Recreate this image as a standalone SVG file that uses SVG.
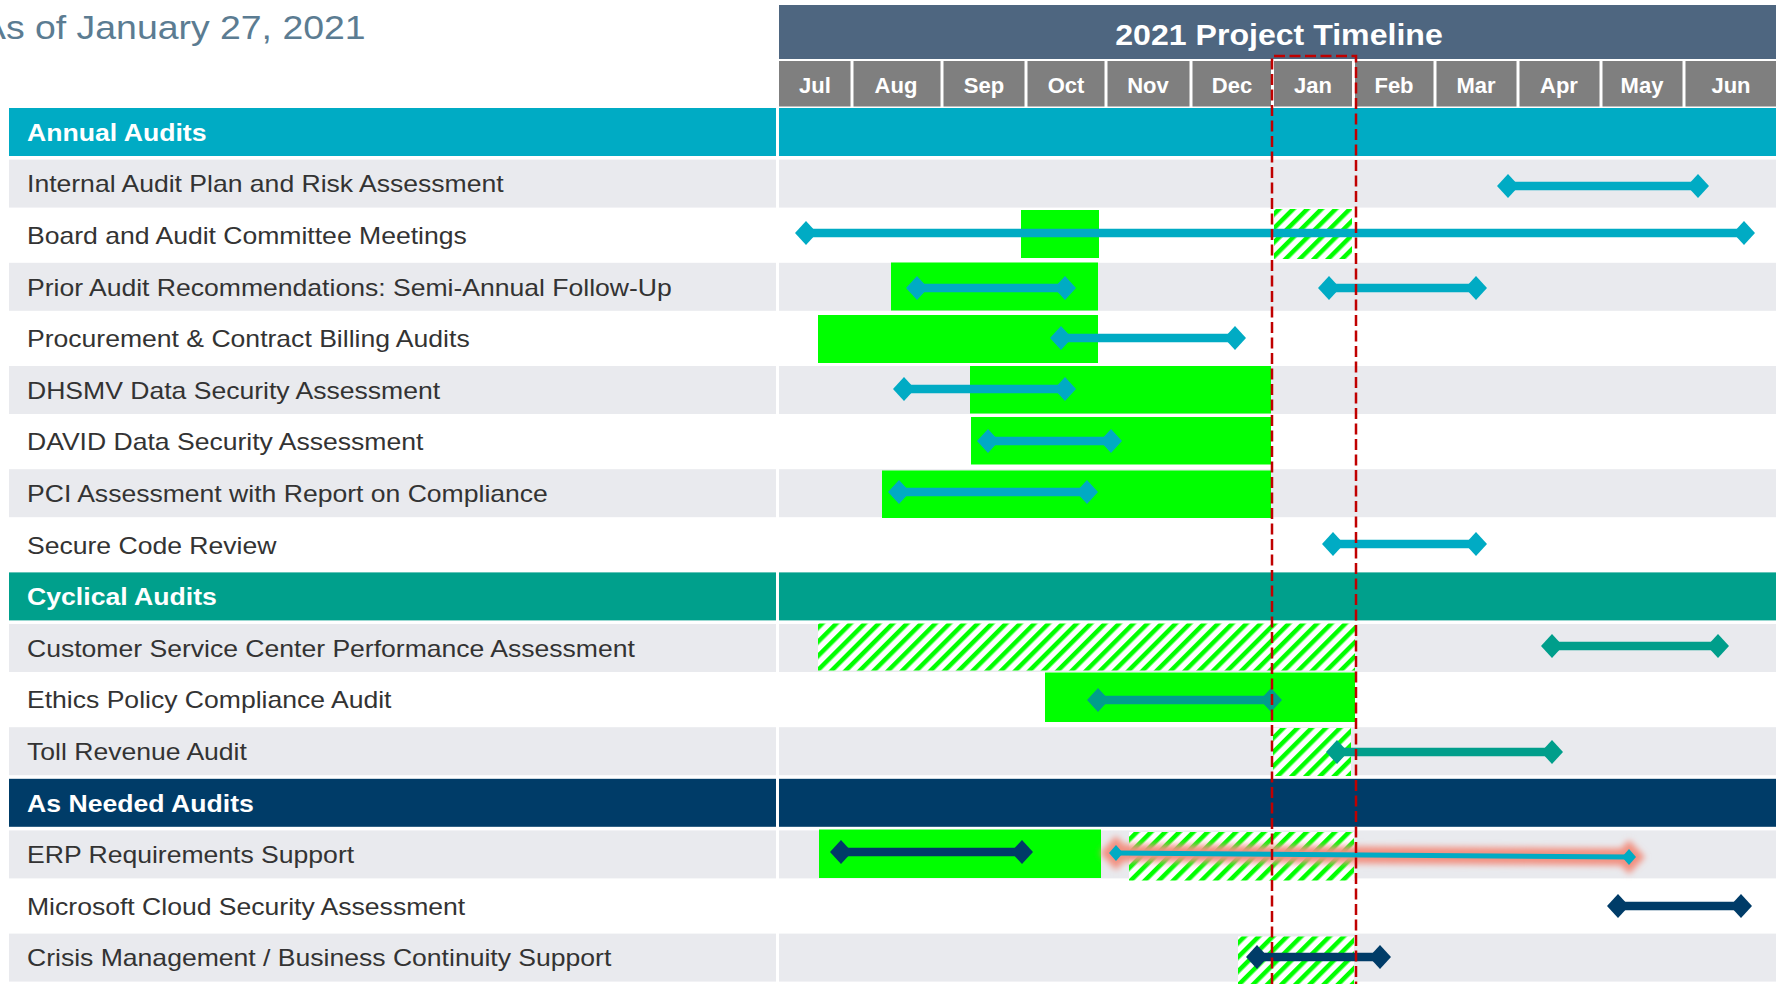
<svg xmlns="http://www.w3.org/2000/svg" width="1783" height="984" viewBox="0 0 1783 984">
  <style>
    text { font-family: "Liberation Sans", Arial, sans-serif; }
    .title { font-size: 34px; fill: #5b7c92; }
    .lbl { font-size: 24px; fill: #333333; }
    .sec { font-size: 24px; font-weight: bold; fill: #ffffff; }
    .head { font-size: 30px; font-weight: bold; fill: #ffffff; text-anchor: middle; }
    .mon { font-size: 22px; font-weight: bold; fill: #ffffff; text-anchor: middle; }
    .gray { fill: #e9eaee; }
    .white { fill: #ffffff; }
    .green { fill: #00ff00; }
    .hatch { fill: url(#hatch); }
    .annual { fill: #00abc4; }
    .cyclical { fill: #00a08c; }
    .needed { fill: #003c68; }
    .sep { stroke: #ffffff; stroke-width: 3; }
    .ln { fill: none; stroke-width: 8.5; }
    .c-cyan { stroke: #00abc4; marker-start: url(#dCyan); marker-end: url(#dCyan); }
    .c-teal { stroke: #009e8b; marker-start: url(#dTeal); marker-end: url(#dTeal); }
    .c-navy { stroke: #003c68; marker-start: url(#dNavy); marker-end: url(#dNavy); }
    .today { fill: none; stroke: #c00000; stroke-width: 2.5; stroke-dasharray: 11 4.5; }
  </style>
  <defs>
    <pattern id="hatch" width="10" height="10" patternUnits="userSpaceOnUse" patternTransform="rotate(45)">
      <rect width="10" height="10" fill="#ffffff"/>
      <rect width="4.5" height="10" fill="#00ff00"/>
    </pattern>
    <marker id="dCyan" markerUnits="userSpaceOnUse" markerWidth="22" markerHeight="24" refX="11" refY="12">
      <path d="M0,12 L11,0 L22,12 L11,24 Z" fill="#00abc4"/>
    </marker>
    <marker id="dTeal" markerUnits="userSpaceOnUse" markerWidth="22" markerHeight="24" refX="11" refY="12">
      <path d="M0,12 L11,0 L22,12 L11,24 Z" fill="#009e8b"/>
    </marker>
    <marker id="dNavy" markerUnits="userSpaceOnUse" markerWidth="22" markerHeight="24" refX="11" refY="12">
      <path d="M0,12 L11,0 L22,12 L11,24 Z" fill="#003c68"/>
    </marker>
    <marker id="dSmall" markerUnits="userSpaceOnUse" markerWidth="14" markerHeight="16" refX="7" refY="8">
      <path d="M0,8 L7,0 L14,8 L7,16 Z" fill="#00abc4"/>
    </marker>
    <filter id="glow" x="-5%" y="-200%" width="110%" height="500%">
      <feGaussianBlur stdDeviation="3"/>
    </filter>
  </defs>

  <rect width="1783" height="984" fill="#ffffff"/>

  <!-- date stamp -->
  <text class="title" transform="translate(-19,39) scale(1.1,1)">As of January 27, 2021</text>

  <!-- timeline header -->
  <g id="timeline-header">
    <rect x="779" y="5" width="997" height="54" fill="#4e6680"/>
    <text class="head" transform="translate(1279,45) scale(1.07,1)">2021 Project Timeline</text>
    <rect x="779" y="61" width="997" height="45.5" fill="#7f7f7f"/>
    <g class="sep">
      <line x1="852" y1="60" x2="852" y2="107"/>
      <line x1="942" y1="60" x2="942" y2="107"/>
      <line x1="1026" y1="60" x2="1026" y2="107"/>
      <line x1="1106" y1="60" x2="1106" y2="107"/>
      <line x1="1191" y1="60" x2="1191" y2="107"/>
      <line x1="1272.5" y1="60" x2="1272.5" y2="107"/>
      <line x1="1353.5" y1="60" x2="1353.5" y2="107"/>
      <line x1="1435" y1="60" x2="1435" y2="107"/>
      <line x1="1518" y1="60" x2="1518" y2="107"/>
      <line x1="1601" y1="60" x2="1601" y2="107"/>
      <line x1="1684" y1="60" x2="1684" y2="107"/>
    </g>
    <text class="mon" x="815" y="93">Jul</text>
    <text class="mon" x="896" y="93">Aug</text>
    <text class="mon" x="984" y="93">Sep</text>
    <text class="mon" x="1066" y="93">Oct</text>
    <text class="mon" x="1148" y="93">Nov</text>
    <text class="mon" x="1232" y="93">Dec</text>
    <text class="mon" x="1313" y="93">Jan</text>
    <text class="mon" x="1394" y="93">Feb</text>
    <text class="mon" x="1476" y="93">Mar</text>
    <text class="mon" x="1559" y="93">Apr</text>
    <text class="mon" x="1642" y="93">May</text>
    <text class="mon" x="1731" y="93">Jun</text>
  </g>

  <!-- section: annual audits -->
  <g id="annual-audits">
    <rect class="annual" x="9" y="108" width="767" height="48"/>
    <rect class="annual" x="779" y="108" width="997" height="48"/>
    <text class="sec" transform="translate(27,141) scale(1.11,1)">Annual Audits</text>
  </g>

  <g id="internal-audit-plan">
    <rect class="gray" x="9" y="159.6" width="767" height="48"/>
    <rect class="gray" x="779" y="159.6" width="997" height="48"/>
    <text class="lbl" transform="translate(27,192.4) scale(1.107,1)">Internal Audit Plan and Risk Assessment</text>
  </g>

  <g id="board-meetings">
    <text class="lbl" transform="translate(27,244) scale(1.107,1)">Board and Audit Committee Meetings</text>
    <rect class="green" x="1021" y="210" width="78" height="48"/>
    <rect class="hatch" x="1274" y="209" width="78" height="50"/>
  </g>

  <g id="prior-recommendations">
    <rect class="gray" x="9" y="262.8" width="767" height="48"/>
    <rect class="gray" x="779" y="262.8" width="997" height="48"/>
    <text class="lbl" transform="translate(27,295.6) scale(1.107,1)">Prior Audit Recommendations: Semi-Annual Follow-Up</text>
    <rect class="green" x="891" y="262.5" width="207" height="48"/>
  </g>

  <g id="procurement-billing">
    <text class="lbl" transform="translate(27,347.2) scale(1.107,1)">Procurement &amp; Contract Billing Audits</text>
    <rect class="green" x="818" y="315" width="280" height="48"/>
  </g>

  <g id="dhsmv-security">
    <rect class="gray" x="9" y="366" width="767" height="48"/>
    <rect class="gray" x="779" y="366" width="997" height="48"/>
    <text class="lbl" transform="translate(27,398.8) scale(1.107,1)">DHSMV Data Security Assessment</text>
    <rect class="green" x="970" y="366" width="301" height="47.5"/>
  </g>

  <g id="david-security">
    <text class="lbl" transform="translate(27,450.4) scale(1.107,1)">DAVID Data Security Assessment</text>
    <rect class="green" x="971" y="417" width="300" height="47.5"/>
  </g>

  <g id="pci-assessment">
    <rect class="gray" x="9" y="469.2" width="767" height="48"/>
    <rect class="gray" x="779" y="469.2" width="997" height="48"/>
    <text class="lbl" transform="translate(27,502) scale(1.107,1)">PCI Assessment with Report on Compliance</text>
    <rect class="green" x="882" y="470.5" width="389" height="47.5"/>
  </g>

  <g id="secure-code-review">
    <text class="lbl" transform="translate(27,553.6) scale(1.107,1)">Secure Code Review</text>
  </g>

  <!-- section: cyclical audits -->
  <g id="cyclical-audits">
    <rect class="cyclical" x="9" y="572.4" width="767" height="48"/>
    <rect class="cyclical" x="779" y="572.4" width="997" height="48"/>
    <text class="sec" transform="translate(27,605.2) scale(1.11,1)">Cyclical Audits</text>
  </g>

  <g id="customer-service">
    <rect class="gray" x="9" y="624" width="767" height="48"/>
    <rect class="gray" x="779" y="624" width="997" height="48"/>
    <text class="lbl" transform="translate(27,656.8) scale(1.107,1)">Customer Service Center Performance Assessment</text>
    <rect class="hatch" x="818" y="623.5" width="537" height="47"/>
  </g>

  <g id="ethics-policy">
    <text class="lbl" transform="translate(27,708.4) scale(1.107,1)">Ethics Policy Compliance Audit</text>
    <rect class="green" x="1045" y="672.5" width="310" height="49.5"/>
  </g>

  <g id="toll-revenue">
    <rect class="gray" x="9" y="727.2" width="767" height="48"/>
    <rect class="gray" x="779" y="727.2" width="997" height="48"/>
    <text class="lbl" transform="translate(27,760) scale(1.107,1)">Toll Revenue Audit</text>
    <rect class="hatch" x="1273" y="728" width="78" height="48"/>
  </g>

  <!-- section: as needed audits -->
  <g id="as-needed-audits">
    <rect class="needed" x="9" y="778.8" width="767" height="48"/>
    <rect class="needed" x="779" y="778.8" width="997" height="48"/>
    <text class="sec" transform="translate(27,811.6) scale(1.11,1)">As Needed Audits</text>
  </g>

  <g id="erp-support">
    <rect class="gray" x="9" y="830.4" width="767" height="48"/>
    <rect class="gray" x="779" y="830.4" width="997" height="48"/>
    <text class="lbl" transform="translate(27,863.2) scale(1.107,1)">ERP Requirements Support</text>
    <rect class="green" x="819" y="829.5" width="282" height="48.5"/>
    <rect class="hatch" x="1129" y="832" width="225" height="48.5"/>
  </g>

  <g id="microsoft-cloud">
    <text class="lbl" transform="translate(27,914.8) scale(1.107,1)">Microsoft Cloud Security Assessment</text>
  </g>

  <g id="crisis-management">
    <rect class="gray" x="9" y="933.6" width="767" height="48"/>
    <rect class="gray" x="779" y="933.6" width="997" height="48"/>
    <text class="lbl" transform="translate(27,966.4) scale(1.107,1)">Crisis Management / Business Continuity Support</text>
    <rect class="hatch" x="1238" y="936.5" width="116" height="47.5"/>
  </g>

  <!-- schedule spans with diamond end points -->
  <g id="schedule-lines">
    <line class="ln c-cyan" x1="1508" y1="186" x2="1698" y2="186"/>
    <line class="ln c-cyan" x1="806" y1="233" x2="1744" y2="233"/>
    <line class="ln c-cyan" x1="917" y1="288" x2="1065" y2="288"/>
    <line class="ln c-cyan" x1="1329" y1="288" x2="1476" y2="288"/>
    <line class="ln c-cyan" x1="1061" y1="338" x2="1235" y2="338"/>
    <line class="ln c-cyan" x1="904" y1="389" x2="1065" y2="389"/>
    <line class="ln c-cyan" x1="988" y1="441" x2="1111" y2="441"/>
    <line class="ln c-cyan" x1="899" y1="492" x2="1087" y2="492"/>
    <line class="ln c-cyan" x1="1333" y1="544" x2="1476" y2="544"/>
    <line class="ln c-teal" x1="1552" y1="646" x2="1718" y2="646"/>
    <line class="ln c-teal" x1="1098" y1="700" x2="1271" y2="700"/>
    <line class="ln c-teal" x1="1337" y1="752" x2="1552" y2="752"/>
    <line class="ln c-navy" x1="841" y1="852" x2="1022" y2="852"/>
    <g id="erp-rescheduled">
      <g filter="url(#glow)">
        <line x1="1116" y1="853" x2="1629" y2="857" stroke="#f29080" stroke-width="17" stroke-linecap="round"/>
        <path d="M1100,853 L1116,836 L1132,853 L1116,870 Z M1613,857 L1629,840 L1645,857 L1629,874 Z" fill="#f29080"/>
      </g>
      <line x1="1116" y1="853" x2="1629" y2="857" stroke="#00abc4" stroke-width="5" marker-start="url(#dSmall)" marker-end="url(#dSmall)"/>
    </g>
    <line class="ln c-navy" x1="1618" y1="906" x2="1741" y2="906"/>
    <line class="ln c-navy" x1="1257" y1="957" x2="1380" y2="957"/>
  </g>

  <!-- current reporting period -->
  <g id="current-period">
    <path class="today" d="M1272,984 L1272,56 L1356,56 L1356,984"/>
  </g>
</svg>
